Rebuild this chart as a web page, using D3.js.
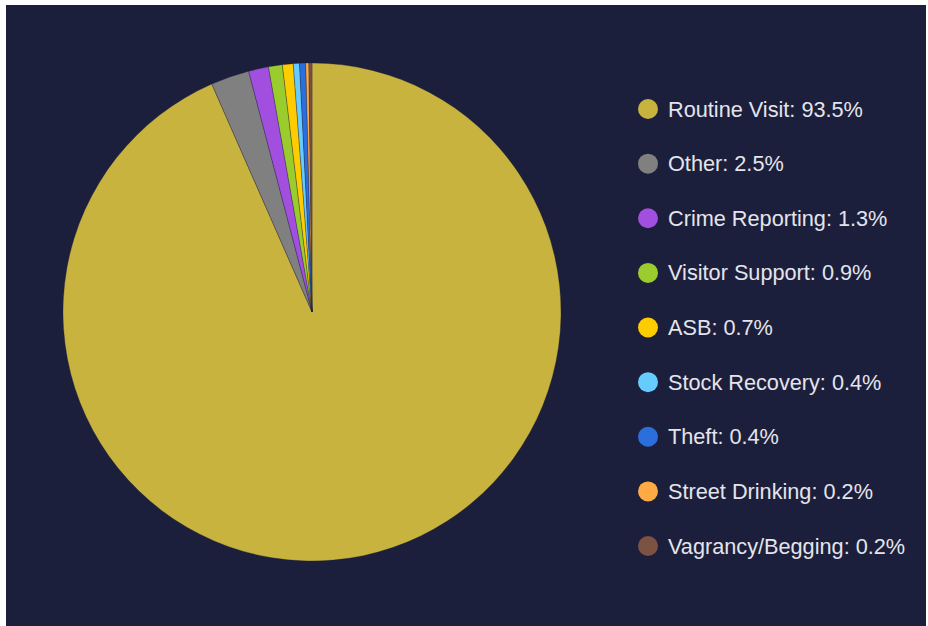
<!DOCTYPE html>
<html>
<head>
<meta charset="utf-8">
<script src="https://cdn.jsdelivr.net/npm/d3@7"></script>
<style>
  html, body { margin: 0; padding: 0; background: #ffffff; }
  svg { display: block; }
</style>
</head>
<body>
<svg id="chart" width="928" height="626"></svg>
<script>
// Visit reasons and their share of all visits (%)
const categories = ["Routine Visit", "Other", "Crime Reporting", "Visitor Support", "ASB",
  "Stock Recovery", "Theft", "Street Drinking", "Vagrancy/Begging"];
const shares = [93.5, 2.5, 1.3, 0.9, 0.7, 0.4, 0.4, 0.2, 0.2];
const palette = ["#c9b33f", "#808080", "#a24fe0", "#9bcc2e", "#ffcc00",
  "#66cbff", "#2b6fdd", "#ffab45", "#7c5242"];

const data = categories.map((name, i) => ({ name, value: shares[i] }));

const svg = d3.select("#chart");

// Panel background
svg.append("rect")
  .attr("x", 6).attr("y", 5)
  .attr("width", 920).attr("height", 621)
  .attr("fill", "#1c1f3b");

const cx = 312, cy = 312, radius = 249;

const pie = d3.pie()
  .value(d => d.value)
  .sort(null);

const arc = d3.arc().innerRadius(0).outerRadius(radius);

const color = d3.scaleOrdinal().domain(categories).range(palette);

svg.append("g")
  .attr("transform", `translate(${cx},${cy})`)
  .selectAll("path")
  .data(pie(data))
  .join("path")
  .attr("d", arc)
  .attr("fill", d => color(d.data.name))
  .attr("stroke", "#1c1f3b")
  .attr("stroke-opacity", 0.6)
  .attr("stroke-width", 0.5);

// Legend
const legendY = d3.scalePoint()
  .domain(categories)
  .range([109, 546]);

const legend = svg.append("g")
  .selectAll("g")
  .data(data)
  .join("g")
  .attr("transform", d => `translate(648,${legendY(d.name)})`);

legend.append("circle")
  .attr("r", 10)
  .attr("fill", d => color(d.name));

legend.append("text")
  .attr("x", 20)
  .attr("dy", "0.35em")
  .attr("fill", "#e4e4ec")
  .attr("font-family", "'Liberation Sans', Arial, sans-serif")
  .attr("font-size", 21.7)
  .text(d => `${d.name}: ${d.value.toFixed(1)}%`);
</script>
</body>
</html>
